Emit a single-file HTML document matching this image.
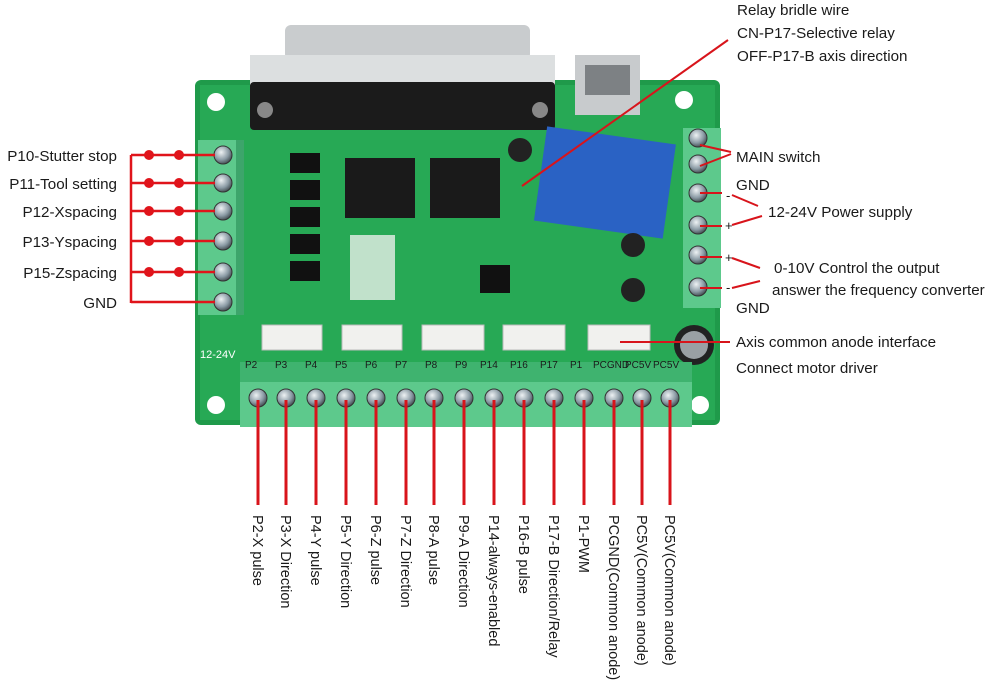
<!DOCTYPE html>
<html><head><meta charset="utf-8"><style>
html,body{margin:0;padding:0;background:#fff;}
svg{display:block}
text{font-family:"Liberation Sans",sans-serif;fill:#1a1a1a;}
</style></head><body>
<svg width="1000" height="699" viewBox="0 0 1000 699" xmlns="http://www.w3.org/2000/svg">
<defs>
<radialGradient id="sc" cx="40%" cy="35%" r="70%"><stop offset="0" stop-color="#eef2f4"/><stop offset="0.6" stop-color="#8a9aa4"/><stop offset="1" stop-color="#3a4448"/></radialGradient>
</defs>
<rect x="195" y="80" width="525" height="345" rx="6" fill="#1f9a4a"/>
<rect x="200" y="85" width="515" height="335" fill="#27a955"/>
<circle cx="216" cy="102" r="9" fill="#fff"/>
<circle cx="684" cy="100" r="9" fill="#fff"/>
<circle cx="216" cy="405" r="9" fill="#fff"/>
<circle cx="700" cy="405" r="9" fill="#fff"/>
<rect x="285" y="25" width="245" height="35" rx="6" fill="#c9ccce"/>
<rect x="250" y="55" width="305" height="30" fill="#dcdfe0"/>
<rect x="250" y="82" width="305" height="48" rx="4" fill="#1b1b1b"/>
<circle cx="265" cy="110" r="8" fill="#888"/><circle cx="540" cy="110" r="8" fill="#888"/>
<rect x="575" y="55" width="65" height="60" fill="#c8cbcd"/>
<rect x="585" y="65" width="45" height="30" fill="#7d8184"/>
<rect x="345" y="158" width="70" height="60" fill="#1a1a1a"/>
<rect x="430" y="158" width="70" height="60" fill="#1a1a1a"/>
<g fill="#111"><rect x="290" y="153" width="30" height="20"/><rect x="290" y="180" width="30" height="20"/><rect x="290" y="207" width="30" height="20"/><rect x="290" y="234" width="30" height="20"/><rect x="290" y="261" width="30" height="20"/></g>
<rect x="350" y="235" width="45" height="65" fill="#e8efe9" opacity="0.8"/>
<rect x="540" y="135" width="130" height="95" fill="#2a62c4" transform="rotate(8 605 182)"/>
<circle cx="520" cy="150" r="12" fill="#222"/>
<circle cx="633" cy="245" r="12" fill="#222"/>
<circle cx="633" cy="290" r="12" fill="#222"/>
<circle cx="694" cy="345" r="20" fill="#222"/><circle cx="694" cy="345" r="14" fill="#9aa0a4"/>
<rect x="480" y="265" width="30" height="28" fill="#111"/>
<g fill="#f1f1ee" stroke="#bbb"><rect x="262" y="325" width="60" height="25"/><rect x="342" y="325" width="60" height="25"/><rect x="422" y="325" width="62" height="25"/><rect x="503" y="325" width="62" height="25"/><rect x="588" y="325" width="62" height="25"/></g>
<text x="200" y="358" font-size="11" style="fill:#fff">12-24V</text>
<rect x="198" y="140" width="42" height="175" fill="#5dc98c"/>
<rect x="236" y="140" width="8" height="175" fill="#3da56b"/>
<rect x="683" y="128" width="38" height="180" fill="#5dc98c"/>
<rect x="240" y="362" width="452" height="22" fill="#3fb36f"/>
<rect x="240" y="382" width="452" height="45" fill="#5dc98c"/>
<g font-size="10" style="fill:#fff">
<text x="245" y="368">P2</text><text x="275" y="368">P3</text><text x="305" y="368">P4</text><text x="335" y="368">P5</text><text x="365" y="368">P6</text><text x="395" y="368">P7</text><text x="425" y="368">P8</text><text x="455" y="368">P9</text><text x="480" y="368">P14</text><text x="510" y="368">P16</text><text x="540" y="368">P17</text><text x="570" y="368">P1</text><text x="593" y="368">PCGND</text><text x="625" y="368">PC5V</text><text x="653" y="368">PC5V</text></g>
<g fill="url(#sc)" stroke="#333" stroke-width="1">
<circle cx="223" cy="155" r="9"/><circle cx="223" cy="183" r="9"/><circle cx="223" cy="211" r="9"/><circle cx="223" cy="241" r="9"/><circle cx="223" cy="272" r="9"/><circle cx="223" cy="302" r="9"/>
<circle cx="698" cy="138" r="9"/><circle cx="698" cy="164" r="9"/><circle cx="698" cy="193" r="9"/><circle cx="698" cy="225" r="9"/><circle cx="698" cy="255" r="9"/><circle cx="698" cy="287" r="9"/>
<circle cx="258" cy="398" r="9"/><circle cx="286" cy="398" r="9"/><circle cx="316" cy="398" r="9"/><circle cx="346" cy="398" r="9"/><circle cx="376" cy="398" r="9"/><circle cx="406" cy="398" r="9"/><circle cx="434" cy="398" r="9"/><circle cx="464" cy="398" r="9"/><circle cx="494" cy="398" r="9"/><circle cx="524" cy="398" r="9"/><circle cx="554" cy="398" r="9"/><circle cx="584" cy="398" r="9"/><circle cx="614" cy="398" r="9"/><circle cx="642" cy="398" r="9"/><circle cx="670" cy="398" r="9"/>
</g>
<g stroke="#e0141b" stroke-width="2.5" fill="none">
<path d="M131 155V303"/>
<path d="M131 155H215M131 183H215M131 211H215M131 241H215M131 272H215M131 302H215"/>
</g>
<g fill="#e0141b">
<circle cx="149" cy="155" r="5"/><circle cx="179" cy="155" r="5"/>
<circle cx="149" cy="183" r="5"/><circle cx="179" cy="183" r="5"/>
<circle cx="149" cy="211" r="5"/><circle cx="179" cy="211" r="5"/>
<circle cx="149" cy="241" r="5"/><circle cx="179" cy="241" r="5"/>
<circle cx="149" cy="272" r="5"/><circle cx="179" cy="272" r="5"/>
</g>
<g font-size="15.2" text-anchor="end">
<text x="117" y="161">P10-Stutter stop</text>
<text x="117" y="189">P11-Tool setting</text>
<text x="117" y="217">P12-Xspacing</text>
<text x="117" y="247">P13-Yspacing</text>
<text x="117" y="278">P15-Zspacing</text>
<text x="117" y="308">GND</text>
</g>
<g stroke="#d8141b" stroke-width="3">
<path d="M258 400V505M286 400V505M316 400V505M346 400V505M376 400V505M406 400V505M434 400V505M464 400V505M494 400V505M524 400V505M554 400V505M584 400V505M614 400V505M642 400V505M670 400V505"/>
</g>
<g font-size="14.5">
<text transform="translate(253 515) rotate(90)">P2-X pulse</text>
<text transform="translate(281 515) rotate(90)">P3-X Direction</text>
<text transform="translate(311 515) rotate(90)">P4-Y pulse</text>
<text transform="translate(341 515) rotate(90)">P5-Y Direction</text>
<text transform="translate(371 515) rotate(90)">P6-Z pulse</text>
<text transform="translate(401 515) rotate(90)">P7-Z Direction</text>
<text transform="translate(429 515) rotate(90)">P8-A pulse</text>
<text transform="translate(459 515) rotate(90)">P9-A Direction</text>
<text transform="translate(489 515) rotate(90)">P14-always-enabled</text>
<text transform="translate(519 515) rotate(90)">P16-B pulse</text>
<text transform="translate(549 515) rotate(90)">P17-B Direction/Relay</text>
<text transform="translate(579 515) rotate(90)">P1-PWM</text>
<text transform="translate(609 515) rotate(90)">PCGND(Common anode)</text>
<text transform="translate(637 515) rotate(90)">PC5V(Common anode)</text>
<text transform="translate(665 515) rotate(90)">PC5V(Common anode)</text>
</g>
<g stroke="#d8141b" stroke-width="2" fill="none">
<path d="M728 40L522 186"/>
<path d="M700 145L731 152M700 166L731 154"/>
<path d="M700 193H722M732 195L758 206"/>
<path d="M700 226H722M732 225L762 216"/>
<path d="M700 257H722M732 258L760 268"/>
<path d="M700 288H722M732 288L760 281"/>
<path d="M620 342H730"/>
</g>
<text x="726" y="200" font-size="13">-</text>
<text x="725" y="230" font-size="13">+</text>
<text x="725" y="262" font-size="13">+</text>
<text x="726" y="292" font-size="13">-</text>
<g font-size="15.2">
<text x="737" y="15">Relay bridle wire</text>
<text x="737" y="38">CN-P17-Selective relay</text>
<text x="737" y="61">OFF-P17-B axis direction</text>
<text x="736" y="162">MAIN switch</text>
<text x="736" y="190">GND</text>
<text x="768" y="217">12-24V Power supply</text>
<text x="774" y="273">0-10V Control the output</text>
<text x="772" y="295">answer the frequency converter</text>
<text x="736" y="313">GND</text>
<text x="736" y="347">Axis common anode interface</text>
<text x="736" y="373">Connect motor driver</text>
</g>
</svg>
</body></html>
